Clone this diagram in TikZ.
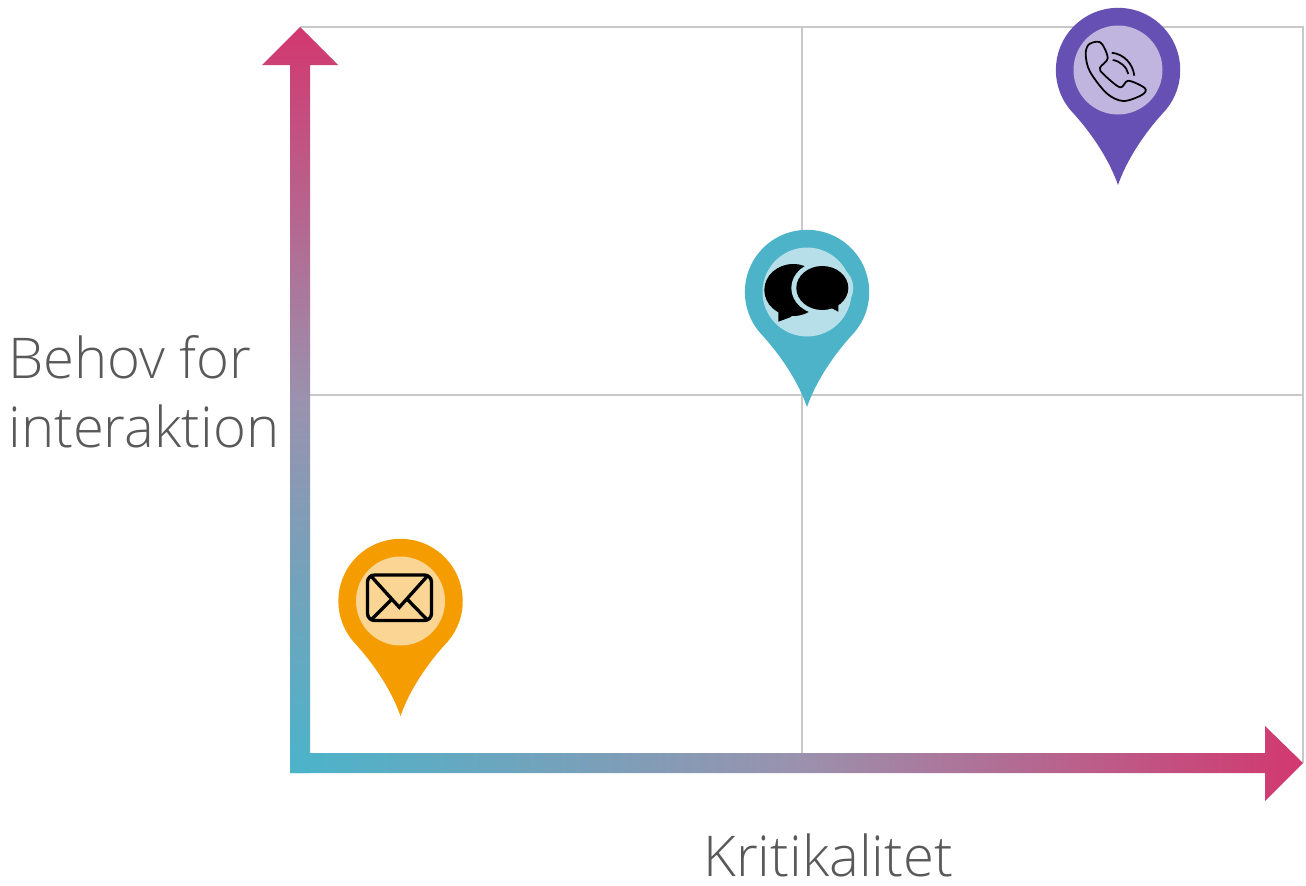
\documentclass[tikz,border=0pt]{standalone}
\usepackage{fontspec}
\setmainfont{Open Sans Light}
\definecolor{ArrowPink}{HTML}{D2386F}
\definecolor{ArrowTeal}{HTML}{4BB4CA}
\definecolor{ArrowMid}{HTML}{9A92AE}
\definecolor{GridGray}{HTML}{C8C8C8}
\definecolor{LabelGray}{HTML}{595959}
\definecolor{PinPurple}{HTML}{6750B3}
\definecolor{PinPurpleLight}{HTML}{BFB5DF}
\definecolor{PinTeal}{HTML}{4CB3C8}
\definecolor{PinTealLight}{HTML}{B6DFE9}
\definecolor{PinOrange}{HTML}{F59D00}
\definecolor{PinOrangeLight}{HTML}{FBD594}
\tikzset{
  gridline/.style={draw=GridGray,line width=0.8pt},
  axislabel/.style={text=LabelGray,font=\fontsize{32}{39}\selectfont,inner sep=0pt,anchor=base west,align=left},
  mappin/.pic={
    \fill[pic actions] (0,115) .. controls (8,92) and (24,66) .. (45,43)
        arc[start angle=43.7,end angle=-223.7,radius=62.2]
        .. controls (-24,66) and (-8,92) .. (0,115) -- cycle;
  }
}
\begin{document}
\begin{tikzpicture}[x=0.02cm,y=-0.02cm]
    \useasboundingbox (0,0) rectangle (1306,886);
    \coordinate (YAxisMax) at (300,27);
    \coordinate (XAxisMax) at (1303,763);

    \draw[gridline] (YAxisMax) -- (1303,27) -- (XAxisMax);% Outer frame
    \draw[gridline] (802,27) -- (802,755);% Middle lines
    \draw[gridline] (310,395) -- (1303,395);

    % Horizontal arrow, then vertical arrow on top of it
    \shade[left color=ArrowTeal,right color=ArrowPink,middle color=ArrowMid] (290,753) -- (1265,753) -- (1265,726)
        -- (XAxisMax) -- (1265,801) -- (1265,773) -- (290,773) -- cycle;
    \shade[bottom color=ArrowTeal,top color=ArrowPink,middle color=ArrowMid] (290,773) -- (290,65) -- (262,65)
        -- (YAxisMax) -- (338,65) -- (310,65) -- (310,773) -- cycle;

    \coordinate (MailPin)  at (400.5,601);
    \coordinate (ChatPin)  at (807,292);
    \coordinate (PhonePin) at (1118,70);

    \foreach \pinname/\pincolor in {MailPin/PinOrange,ChatPin/PinTeal,PhonePin/PinPurple}{% One pin each
      \pic[fill=\pincolor] at (\pinname) {mappin};
      \fill[\pincolor Light] (\pinname) circle[radius=44.5];
    }

    % Envelope
    \begin{scope}[shift={(MailPin)},draw=black,line width=1.9pt]
      \draw[rounded corners=4pt] (-33,-26) rectangle (31,19.5);
      \draw (-30.5,-26) -- (-1.2,6.3) -- (27.8,-26);
      \draw (-28.8,18.3) -- (-8.8,-1.7);
      \draw (26.2,18.3) -- (6.8,-1.7);
    \end{scope}

    % Two speech bubbles
    \begin{scope}[shift={(ChatPin)}]
      \fill[black] (-13.7,-2) ellipse[x radius=29,y radius=26];
      \fill[black] (-28.7,18) -- (-28.7,29.7) -- (-15.3,24.7) -- cycle;
      \fill[PinTealLight] (15.3,-4) ellipse[x radius=31,y radius=26.5];
      \fill[black] (15.3,-4) ellipse[x radius=26,y radius=22];
      \fill[black] (23,15.3) -- (31.3,19.7) -- (31.3,11.3) -- cycle;
    \end{scope}

    % Telephone handset
    \begin{scope}[shift={(PhonePin)},draw=black,line width=1pt]
      \draw plot[smooth cycle,tension=0.55] coordinates {(-32.3,-15) (-29.7,-25) (-21.3,-28.3)
          (-15.7,-25.7) (-10.3,-11.7) (-18,-2.3) (-14.7,4) (2,17.3) (10.3,10.7)
          (27,18.3) (23.7,25) (5.3,31) (-11.3,23.3) (-28,1.7)};
      \draw (-6.3,-17.3) .. controls (6,-16) and (15,-6) .. (16.3,5.7);
      \draw (-5.3,-10) .. controls (2,-9) and (9,-3) .. (10.3,4);
    \end{scope}

    \node[axislabel] (YLabel) at (8,447) {Behov for\\interaktion};
    \node[axislabel] (XLabel) at (703,876) {Kritikalitet};
\end{tikzpicture}
\end{document}
